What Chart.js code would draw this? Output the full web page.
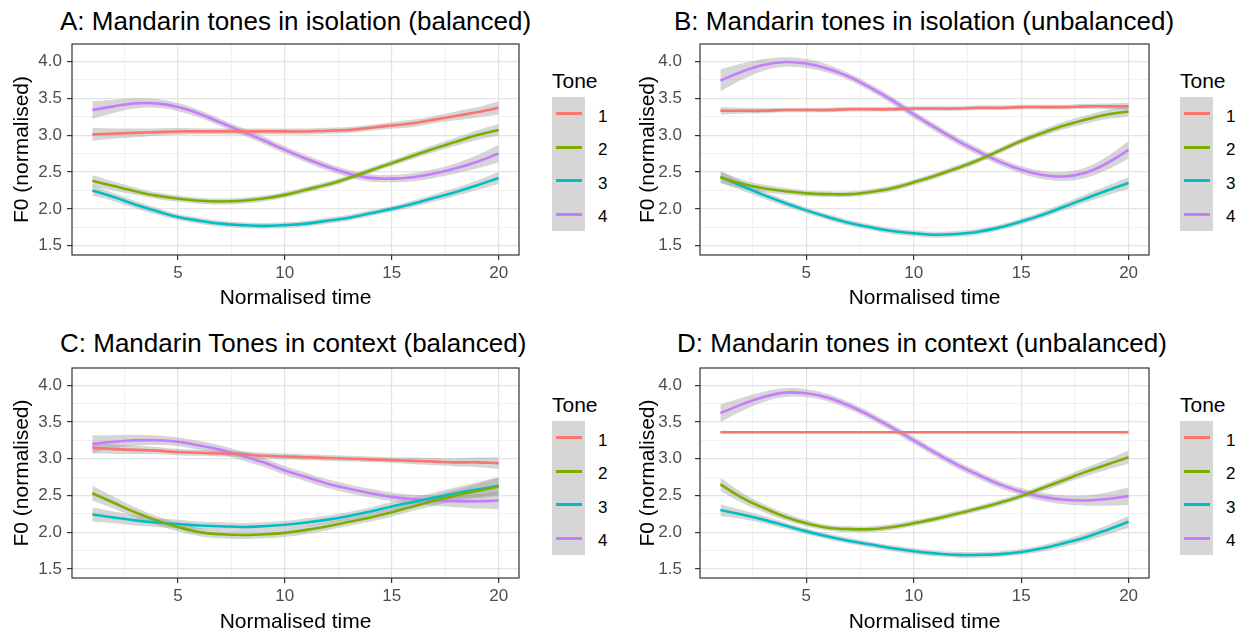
<!DOCTYPE html>
<html>
<head>
<meta charset="utf-8">
<script src="https://cdn.jsdelivr.net/npm/chart.js@4.4.0/dist/chart.umd.min.js"></script>
<style>
  body { margin: 0; width: 1244px; height: 634px; overflow: hidden; background: #fff; position: relative;
         font-family: "Liberation Sans", Arial, sans-serif; }
  canvas { position: absolute; }
  .ptitle { position: absolute; font-size: 26px; line-height: 1; color: #000; white-space: nowrap; }
  .lg-title { position: absolute; font-size: 21px; line-height: 1; color: #000; }
  .lg-box { position: absolute; width: 33px; background: #d6d6d6; }
  .lg-line { position: absolute; height: 3px; }
  .lg-label { position: absolute; font-size: 17px; line-height: 1; color: #000; }
</style>
</head>
<body>
<script>
// --- DATA ---
const timePoints = [1,2,3,4,5,6,7,8,9,10,11,12,13,14,15,16,17,18,19,20];
const tones = ['1', '2', '3', '4'];
const toneColors = ['#F8766D', '#7CAE00', '#00BFC4', '#C77CFF'];
const xTickValues = [2.5, 5, 7.5, 10, 12.5, 15, 17.5, 20];
const yTickValues = [1.5, 1.75, 2, 2.25, 2.5, 2.75, 3, 3.25, 3.5, 3.75, 4];
const panelTitles = [
  'A: Mandarin tones in isolation (balanced)',
  'B: Mandarin tones in isolation (unbalanced)',
  'C: Mandarin Tones in context (balanced)',
  'D: Mandarin tones in context (unbalanced)'
];

// A: isolation, balanced
const isoBalT1 = [3.01,3.02,3.03,3.04,3.05,3.05,3.05,3.05,3.05,3.05,3.05,3.06,3.07,3.10,3.13,3.16,3.21,3.26,3.31,3.37];
const isoBalT2 = [2.38,2.31,2.24,2.18,2.14,2.11,2.10,2.11,2.14,2.19,2.26,2.33,2.42,2.52,2.62,2.72,2.82,2.91,3.00,3.07];
const isoBalT3 = [2.25,2.16,2.06,1.97,1.89,1.84,1.80,1.78,1.77,1.78,1.80,1.84,1.88,1.94,2.00,2.07,2.15,2.23,2.32,2.42];
const isoBalT4 = [3.34,3.39,3.43,3.43,3.38,3.29,3.17,3.05,2.93,2.80,2.68,2.57,2.48,2.42,2.41,2.43,2.48,2.55,2.64,2.75];
const isoBalSe1 = [0.09,0.07,0.06,0.05,0.045,0.04,0.04,0.04,0.04,0.04,0.04,0.04,0.04,0.04,0.045,0.05,0.05,0.06,0.07,0.09];
const isoBalSe2 = [0.08,0.06,0.05,0.045,0.04,0.04,0.04,0.04,0.04,0.04,0.04,0.04,0.04,0.04,0.04,0.045,0.05,0.055,0.065,0.08];
const isoBalSe3 = [0.07,0.055,0.05,0.045,0.04,0.04,0.04,0.04,0.04,0.04,0.04,0.04,0.04,0.04,0.04,0.045,0.05,0.055,0.065,0.08];
const isoBalSe4 = [0.12,0.09,0.07,0.06,0.055,0.05,0.05,0.05,0.05,0.05,0.05,0.05,0.05,0.05,0.05,0.055,0.06,0.07,0.09,0.12];

// B: isolation, unbalanced
const isoUnbT1 = [3.33,3.33,3.33,3.34,3.34,3.34,3.35,3.35,3.35,3.36,3.36,3.36,3.37,3.37,3.38,3.38,3.38,3.39,3.39,3.39];
const isoUnbT2 = [2.43,2.34,2.28,2.24,2.21,2.20,2.20,2.23,2.28,2.36,2.45,2.55,2.66,2.79,2.92,3.03,3.13,3.21,3.28,3.32];
const isoUnbT3 = [2.43,2.31,2.19,2.08,1.98,1.89,1.81,1.75,1.70,1.67,1.65,1.66,1.69,1.75,1.83,1.92,2.03,2.14,2.25,2.35];
const isoUnbT4 = [3.74,3.86,3.95,3.99,3.97,3.90,3.79,3.64,3.47,3.28,3.10,2.93,2.78,2.64,2.53,2.46,2.44,2.49,2.62,2.80];
const isoUnbSe1 = [0.05,0.04,0.035,0.03,0.03,0.03,0.03,0.03,0.03,0.03,0.03,0.03,0.03,0.03,0.03,0.03,0.03,0.035,0.04,0.05];
const isoUnbSe2 = [0.08,0.06,0.05,0.045,0.04,0.04,0.04,0.04,0.04,0.04,0.04,0.04,0.04,0.04,0.04,0.045,0.05,0.055,0.06,0.07];
const isoUnbSe3 = [0.08,0.06,0.05,0.045,0.04,0.04,0.04,0.04,0.04,0.04,0.04,0.04,0.04,0.04,0.04,0.045,0.05,0.055,0.065,0.08];
const isoUnbSe4 = [0.15,0.11,0.08,0.065,0.06,0.055,0.05,0.05,0.05,0.05,0.05,0.05,0.05,0.05,0.05,0.055,0.06,0.07,0.09,0.12];

// C: context, balanced
const ctxBalT1 = [3.15,3.13,3.12,3.11,3.09,3.08,3.07,3.06,3.04,3.03,3.02,3.01,3.00,2.99,2.98,2.97,2.96,2.95,2.95,2.94];
const ctxBalT2 = [2.53,2.40,2.27,2.16,2.07,2.00,1.97,1.96,1.97,1.99,2.03,2.08,2.14,2.20,2.27,2.35,2.43,2.50,2.56,2.62];
const ctxBalT3 = [2.24,2.20,2.16,2.13,2.11,2.09,2.08,2.07,2.08,2.10,2.13,2.17,2.22,2.28,2.35,2.41,2.47,2.53,2.58,2.63];
const ctxBalT4 = [3.20,3.23,3.25,3.25,3.23,3.18,3.12,3.04,2.95,2.84,2.75,2.66,2.59,2.53,2.48,2.45,2.43,2.42,2.42,2.43];
const ctxBalSe1 = [0.08,0.065,0.055,0.05,0.045,0.04,0.04,0.04,0.04,0.04,0.04,0.04,0.04,0.04,0.04,0.045,0.05,0.055,0.065,0.08];
const ctxBalSe2 = [0.1,0.08,0.07,0.06,0.06,0.055,0.055,0.055,0.055,0.055,0.055,0.055,0.055,0.055,0.06,0.06,0.07,0.08,0.1,0.12];
const ctxBalSe3 = [0.1,0.08,0.07,0.06,0.06,0.055,0.055,0.055,0.055,0.055,0.055,0.055,0.055,0.055,0.06,0.06,0.07,0.08,0.1,0.12];
const ctxBalSe4 = [0.12,0.09,0.075,0.065,0.06,0.06,0.06,0.06,0.06,0.06,0.06,0.06,0.06,0.06,0.06,0.06,0.07,0.08,0.1,0.12];

// D: context, unbalanced
const ctxUnbT1 = [3.36,3.36,3.36,3.36,3.36,3.36,3.36,3.36,3.36,3.36,3.36,3.36,3.36,3.36,3.36,3.36,3.36,3.36,3.36,3.36];
const ctxUnbT2 = [2.65,2.47,2.33,2.21,2.12,2.06,2.04,2.04,2.07,2.12,2.18,2.25,2.32,2.40,2.49,2.60,2.71,2.82,2.92,3.02];
const ctxUnbT3 = [2.30,2.24,2.17,2.09,2.01,1.94,1.88,1.83,1.78,1.74,1.71,1.69,1.69,1.70,1.73,1.78,1.85,1.93,2.03,2.14];
const ctxUnbT4 = [3.62,3.74,3.84,3.90,3.89,3.83,3.72,3.58,3.42,3.25,3.08,2.92,2.78,2.65,2.55,2.48,2.44,2.43,2.45,2.49];
const ctxUnbSe1 = [0.02,0.015,0.015,0.015,0.015,0.015,0.015,0.015,0.015,0.015,0.015,0.015,0.015,0.015,0.015,0.015,0.015,0.015,0.015,0.02];
const ctxUnbSe2 = [0.09,0.07,0.055,0.05,0.045,0.04,0.04,0.04,0.04,0.04,0.04,0.04,0.04,0.04,0.04,0.045,0.05,0.06,0.07,0.09];
const ctxUnbSe3 = [0.08,0.06,0.05,0.045,0.04,0.04,0.04,0.04,0.04,0.04,0.04,0.04,0.04,0.04,0.04,0.045,0.05,0.055,0.065,0.08];
const ctxUnbSe4 = [0.12,0.09,0.07,0.06,0.055,0.05,0.05,0.05,0.05,0.05,0.05,0.05,0.05,0.05,0.05,0.055,0.06,0.07,0.09,0.12];

// --- LAYOUT (page pixels) ---
const panels = [
  { title: panelTitles[0], means: [isoBalT1, isoBalT2, isoBalT3, isoBalT4], se: [isoBalSe1, isoBalSe2, isoBalSe3, isoBalSe4],
    canvasX: 0, canvasY: 40, plotL: 72, plotR: 519, plotT: 44, plotB: 255, titleX: 60, titleY: 8, yTitlePad: 10, yTickPad: 5, legendX: 552, legendY: 70 },
  { title: panelTitles[1], means: [isoUnbT1, isoUnbT2, isoUnbT3, isoUnbT4], se: [isoUnbSe1, isoUnbSe2, isoUnbSe3, isoUnbSe4],
    canvasX: 620, canvasY: 40, plotL: 700, plotR: 1149, plotT: 44, plotB: 255, titleX: 674, titleY: 8, yTitlePad: 16, yTickPad: 13, legendX: 1180, legendY: 70 },
  { title: panelTitles[2], means: [ctxBalT1, ctxBalT2, ctxBalT3, ctxBalT4], se: [ctxBalSe1, ctxBalSe2, ctxBalSe3, ctxBalSe4],
    canvasX: 0, canvasY: 364, plotL: 72, plotR: 519, plotT: 368, plotB: 578, titleX: 60, titleY: 330, yTitlePad: 10, yTickPad: 5, legendX: 552, legendY: 394 },
  { title: panelTitles[3], means: [ctxUnbT1, ctxUnbT2, ctxUnbT3, ctxUnbT4], se: [ctxUnbSe1, ctxUnbSe2, ctxUnbSe3, ctxUnbSe4],
    canvasX: 620, canvasY: 364, plotL: 700, plotR: 1149, plotT: 368, plotB: 578, titleX: 677, titleY: 330, yTitlePad: 16, yTickPad: 13, legendX: 1180, legendY: 394 }
];
const CANVAS_W = 540, CANVAS_H = 280;

// ggplot-like panel border drawn on top
const panelBorder = {
  id: 'panelBorder',
  afterDraw(chart) {
    const { ctx, chartArea: a } = chart;
    ctx.save();
    ctx.strokeStyle = '#333333';
    ctx.lineWidth = 1.2;
    ctx.strokeRect(a.left, a.top, a.right - a.left, a.bottom - a.top);
    ctx.restore();
  }
};

const isMajorX = v => v % 5 === 0;
const isMajorY = v => Math.abs(v * 2 - Math.round(v * 2)) < 1e-6;
const tickFont = { family: 'Liberation Sans', size: 17 };
const titleFont = { family: 'Liberation Sans', size: 21 };

function addText(cls, text, x, y, extra) {
  const el = document.createElement('div');
  el.className = cls;
  el.textContent = text;
  el.style.left = x + 'px';
  el.style.top = y + 'px';
  if (extra) Object.assign(el.style, extra);
  document.body.appendChild(el);
  return el;
}

function addLegend(x, y) {
  addText('lg-title', 'Tone', x, y);
  const boxTop = y + 27, rowH = 33.5;
  addText('lg-box', '', x, boxTop, { height: (rowH * tones.length) + 'px' });
  tones.forEach((t, i) => {
    const cy = boxTop + rowH * i + 16.5;
    addText('lg-line', '', x + 4, cy - 1.5, { width: '26px', background: toneColors[i] });
    addText('lg-label', t, x + 46, cy - 6);
  });
}

function buildDatasets(p) {
  const ribbons = [], lines = [];
  p.means.forEach((vals, i) => {
    ribbons.push({
      data: timePoints.map((x, k) => ({ x, y: vals[k] + p.se[i][k] })),
      borderWidth: 0, pointRadius: 0, tension: 0.4,
      backgroundColor: 'rgba(153,153,153,0.4)', fill: '+1', order: 2
    });
    ribbons.push({
      data: timePoints.map((x, k) => ({ x, y: vals[k] - p.se[i][k] })),
      borderWidth: 0, pointRadius: 0, tension: 0.4, fill: false, order: 2
    });
    lines.push({
      label: tones[i],
      data: timePoints.map((x, k) => ({ x, y: vals[k] })),
      borderColor: toneColors[i], borderWidth: 2.6, pointRadius: 0, tension: 0.4, fill: false, order: 1
    });
  });
  return ribbons.concat(lines);
}

panels.forEach(p => {
  addText('ptitle', p.title, p.titleX, p.titleY);
  addLegend(p.legendX, p.legendY);

  const canvas = document.createElement('canvas');
  canvas.width = CANVAS_W;
  canvas.height = CANVAS_H;
  canvas.style.left = p.canvasX + 'px';
  canvas.style.top = p.canvasY + 'px';
  document.body.appendChild(canvas);

  const yWidth = p.plotL - p.canvasX;
  const xHeight = p.canvasY + CANVAS_H - p.plotB;

  new Chart(canvas.getContext('2d'), {
    type: 'line',
    data: { datasets: buildDatasets(p) },
    options: {
      responsive: false,
      animation: false,
      events: [],
      layout: { padding: { left: 0, top: p.plotT - p.canvasY, right: CANVAS_W - (p.plotR - p.canvasX), bottom: 0 } },
      plugins: { legend: { display: false }, tooltip: { enabled: false } },
      scales: {
        x: {
          type: 'linear', min: 0.05, max: 20.95,
          afterBuildTicks: s => { s.ticks = xTickValues.map(v => ({ value: v })); },
          afterFit: s => { s.height = xHeight; s.paddingLeft = 0; s.paddingRight = 0; },
          border: { display: false },
          grid: {
            color: c => (c.tick && isMajorX(c.tick.value)) ? '#e3e3e3' : '#efefef',
            lineWidth: c => (c.tick && isMajorX(c.tick.value)) ? 1.2 : 0.9,
            tickColor: c => (c.tick && isMajorX(c.tick.value)) ? '#333333' : 'rgba(0,0,0,0)',
            tickLength: 5, tickWidth: 1.2
          },
          ticks: {
            autoSkip: false, maxRotation: 0, padding: 3, color: '#4d4d4d', font: tickFont,
            callback: v => isMajorX(v) ? String(v) : ''
          },
          title: { display: true, text: 'Normalised time', color: '#000', font: titleFont, padding: { top: 0, bottom: 9 } }
        },
        y: {
          min: 1.375, max: 4.235,
          afterBuildTicks: s => { s.ticks = yTickValues.map(v => ({ value: v })); },
          afterFit: s => { s.width = yWidth; s.paddingTop = 0; s.paddingBottom = 0; },
          border: { display: false },
          grid: {
            color: c => (c.tick && isMajorY(c.tick.value)) ? '#e3e3e3' : '#efefef',
            lineWidth: c => (c.tick && isMajorY(c.tick.value)) ? 1.2 : 0.9,
            tickColor: c => (c.tick && isMajorY(c.tick.value)) ? '#333333' : 'rgba(0,0,0,0)',
            tickLength: 5, tickWidth: 1.2
          },
          ticks: {
            autoSkip: false, padding: p.yTickPad, color: '#4d4d4d', font: tickFont,
            callback: v => isMajorY(v) ? v.toFixed(1) : ''
          },
          title: { display: true, text: 'F0 (normalised)', color: '#000', font: titleFont, padding: { top: p.yTitlePad, bottom: 0 } }
        }
      }
    },
    plugins: [panelBorder]
  });
});
</script>
</body>
</html>
